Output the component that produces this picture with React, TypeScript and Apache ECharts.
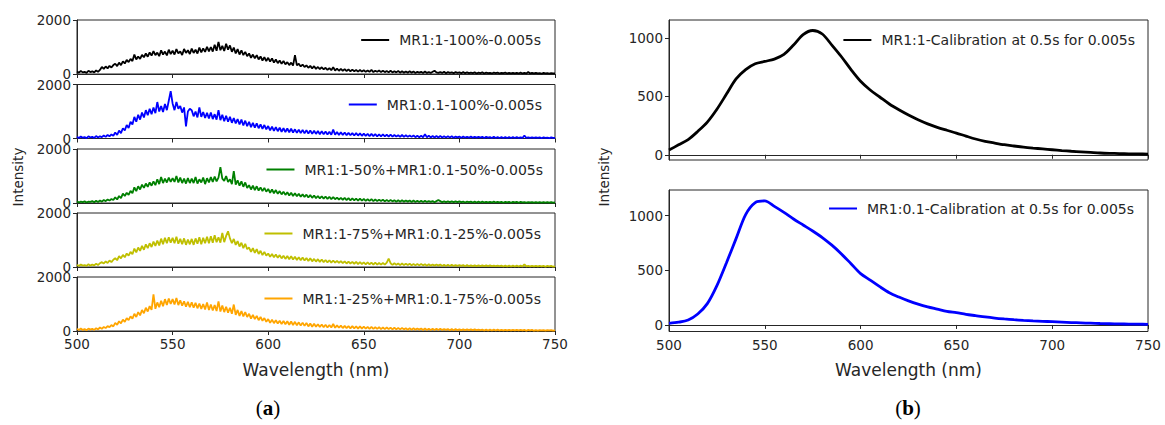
import React, { useEffect, useRef } from "react";
import * as echarts from "echarts";

// Sampling grid of the measured spectra (nm)
const wlStart = 500;
const noisyStep = 1; // noisy spectra: one value per nm, 500..750
const calStep = 5; // calibration spectra: one value every 5 nm, 500..750

const xTicks = [500, 550, 600, 650, 700, 750];
const leftYTicks = [0, 2000];
const rightYTicks = [0, 500, 1000];

const names = [
  "MR1:1-100%-0.005s",
  "MR1:0.1-100%-0.005s",
  "MR1:1-50%+MR1:0.1-50%-0.005s",
  "MR1:1-75%+MR1:0.1-25%-0.005s",
  "MR1:1-25%+MR1:0.1-75%-0.005s",
];
const calNames = [
  "MR1:1-Calibration at 0.5s for 0.005s",
  "MR1:0.1-Calibration at 0.5s for 0.005s",
];

const mr1_100 = [
  90, 50, 110, 60, 80, 40, 120, 70, 100, 60,
  130, 80, 150, 260, 190, 280, 210, 300, 240, 330,
  380, 290, 420, 330, 470, 390, 520, 440, 560, 480,
  720, 540, 650, 560, 710, 620, 760, 640, 800, 680,
  850, 700, 790, 660, 880, 720, 830, 690, 900, 740,
  860, 720, 920, 760, 840, 700, 930, 780, 880, 740,
  940, 780, 900, 760, 980, 800, 950, 820, 1010, 840,
  1000, 830, 1080, 860, 1190, 880, 1040, 850, 1120, 900,
  1060, 820, 980, 760, 920, 720, 880, 700, 820, 660,
  760, 600, 720, 580, 700, 540, 650, 500, 620, 480,
  600, 460, 580, 420, 540, 400, 500, 380, 480, 360,
  440, 330, 420, 310, 700, 320, 380, 280, 350, 260,
  320, 230, 300, 210, 290, 190, 260, 180, 250, 170,
  230, 150, 220, 140, 250, 130, 200, 120, 190, 120,
  180, 110, 170, 100, 160, 100, 150, 90, 150, 90,
  140, 80, 130, 80, 150, 70, 120, 80, 130, 70,
  120, 70, 110, 60, 120, 60, 100, 60, 110, 50,
  100, 50, 90, 50, 100, 50, 90, 40, 80, 50,
  80, 40, 90, 40, 70, 40, 80, 120, 60, 40,
  70, 40, 80, 30, 70, 40, 60, 30, 70, 40,
  60, 30, 70, 30, 60, 30, 50, 30, 60, 20,
  50, 30, 60, 20, 50, 30, 40, 20, 50, 30,
  50, 20, 40, 30, 50, 20, 40, 20, 40, 20,
  40, 20, 50, 20, 40, 20, 70, 20, 40, 20,
  40, 20, 30, 10, 40, 20, 30, 10, 30, 20,
  20,
];

const mr01_100 = [
  60, 20, 70, 30, 50, 10, 80, 40, 60, 20,
  90, 40, 80, 50, 110, 60, 130, 80, 150, 100,
  220, 130, 290, 200, 380, 300, 500, 390, 620, 520,
  800, 620, 880, 700, 960, 780, 1050, 860, 1100, 900,
  1150, 940, 1350, 1000, 1200, 980, 1280, 1050, 1400, 1750,
  1300, 1050, 1350, 1100, 1200, 960, 1150, 450, 1000, 1100,
  1050, 820, 1000, 780, 1150, 800, 980, 760, 950, 740,
  960, 720, 900, 700, 1050, 680, 880, 640, 840, 620,
  800, 580, 760, 560, 720, 520, 700, 480, 660, 460,
  620, 420, 580, 400, 560, 380, 520, 360, 500, 340,
  460, 300, 440, 280, 420, 270, 400, 250, 380, 240,
  370, 230, 360, 220, 340, 210, 330, 200, 320, 190,
  310, 180, 300, 170, 290, 170, 280, 160, 270, 160,
  260, 150, 250, 140, 330, 140, 240, 130, 230, 130,
  220, 120, 210, 120, 200, 110, 200, 110, 190, 100,
  180, 100, 170, 90, 170, 90, 160, 80, 150, 80,
  150, 80, 140, 70, 140, 70, 130, 70, 120, 60,
  130, 60, 120, 60, 110, 60, 110, 50, 100, 50,
  100, 50, 160, 50, 100, 40, 90, 40, 90, 40,
  90, 40, 80, 40, 80, 40, 80, 30, 70, 40,
  70, 30, 70, 30, 60, 30, 70, 30, 60, 30,
  60, 30, 60, 20, 60, 30, 50, 20, 60, 20,
  50, 20, 50, 20, 50, 20, 50, 20, 50, 20,
  50, 20, 40, 20, 110, 20, 40, 20, 40, 20,
  40, 20, 40, 10, 40, 20, 30, 10, 40, 20,
  20,
];

const mix50_50 = [
  60, 20, 50, 30, 60, 20, 50, 40, 70, 30,
  80, 40, 90, 50, 110, 70, 130, 90, 150, 110,
  210, 130, 260, 180, 350, 260, 380, 300, 450, 360,
  580, 440, 620, 500, 680, 560, 720, 600, 760, 640,
  800, 660, 880, 700, 960, 740, 900, 760, 940, 780,
  920, 780, 1000, 760, 940, 740, 900, 720, 920, 740,
  900, 740, 960, 720, 880, 760, 940, 700, 920, 760,
  960, 780, 980, 800, 940, 1330, 900, 820, 1000, 780,
  880, 700, 1180, 680, 840, 640, 800, 600, 760, 560,
  660, 500, 640, 480, 620, 460, 580, 440, 560, 420,
  520, 380, 500, 360, 480, 340, 440, 320, 420, 300,
  400, 280, 380, 260, 360, 250, 340, 230, 320, 220,
  310, 200, 300, 190, 280, 180, 260, 170, 250, 160,
  240, 150, 230, 140, 220, 140, 200, 130, 190, 120,
  190, 110, 180, 100, 170, 100, 160, 90, 160, 90,
  150, 80, 140, 80, 140, 70, 130, 70, 120, 70,
  120, 60, 110, 60, 110, 60, 100, 50, 100, 50,
  100, 50, 90, 50, 90, 40, 90, 40, 80, 40,
  80, 40, 80, 40, 70, 40, 70, 30, 70, 110,
  70, 30, 60, 30, 60, 30, 60, 30, 60, 30,
  60, 30, 50, 20, 50, 30, 50, 20, 50, 20,
  50, 20, 50, 20, 40, 20, 40, 20, 50, 20,
  40, 20, 40, 10, 40, 20, 40, 10, 40, 20,
  40, 10, 40, 20, 30, 10, 30, 20, 30, 10,
  30, 10, 30, 10, 30, 10, 30, 10, 30, 10,
  20,
];

const mix75_25 = [
  80, 40, 90, 50, 70, 40, 100, 50, 90, 60,
  120, 70, 140, 180, 130, 210, 150, 240, 180, 270,
  330, 250, 400, 320, 450, 360, 500, 420, 560, 470,
  680, 540, 720, 600, 780, 640, 840, 700, 880, 740,
  940, 780, 980, 800, 1050, 840, 1080, 880, 1100, 900,
  1080, 880, 1120, 860, 1040, 840, 1060, 820, 1020, 840,
  1040, 820, 1060, 860, 1100, 840, 1080, 880, 1120, 880,
  1140, 900, 1180, 920, 1100, 900, 1260, 920, 1150, 1320,
  1060, 880, 1040, 820, 960, 760, 900, 700, 860, 660,
  720, 560, 700, 520, 660, 480, 600, 440, 560, 420,
  500, 380, 480, 360, 460, 340, 440, 320, 420, 300,
  410, 290, 400, 280, 380, 260, 360, 250, 350, 240,
  330, 220, 320, 210, 300, 200, 290, 190, 280, 180,
  260, 170, 250, 160, 240, 160, 230, 150, 220, 140,
  210, 130, 200, 130, 190, 120, 190, 110, 180, 110,
  170, 100, 170, 100, 160, 90, 160, 90, 150, 90,
  150, 90, 160, 310, 140, 80, 140, 80, 130, 70,
  130, 70, 120, 70, 120, 60, 110, 60, 110, 60,
  110, 60, 100, 50, 100, 50, 90, 50, 90, 50,
  90, 40, 80, 40, 80, 40, 80, 40, 70, 40,
  70, 40, 70, 30, 70, 30, 60, 30, 60, 30,
  60, 30, 60, 30, 60, 30, 60, 30, 50, 30,
  50, 30, 50, 20, 50, 20, 50, 20, 50, 20,
  50, 20, 50, 20, 100, 20, 40, 20, 40, 20,
  40, 20, 40, 20, 40, 10, 40, 20, 40, 10,
  20,
];

const mix25_75 = [
  80, 40, 90, 40, 70, 30, 90, 50, 80, 40,
  100, 60, 130, 80, 150, 110, 180, 140, 220, 170,
  300, 230, 360, 280, 420, 340, 480, 400, 540, 460,
  640, 520, 700, 580, 780, 660, 860, 720, 920, 780,
  1360, 820, 1060, 880, 1120, 920, 1180, 960, 1200, 1000,
  1180, 980, 1220, 960, 1140, 940, 1100, 900, 1080, 880,
  1060, 860, 1040, 840, 1020, 820, 1000, 800, 1060, 780,
  980, 760, 960, 740, 1100, 720, 940, 700, 900, 680,
  860, 640, 980, 600, 780, 560, 740, 540, 700, 520,
  640, 460, 600, 440, 560, 400, 520, 380, 480, 340,
  440, 300, 420, 290, 400, 280, 380, 260, 370, 250,
  360, 230, 350, 220, 340, 210, 320, 200, 310, 190,
  300, 170, 280, 160, 270, 160, 250, 150, 240, 140,
  230, 130, 220, 130, 260, 120, 210, 120, 200, 110,
  190, 110, 180, 100, 180, 100, 170, 90, 170, 90,
  160, 90, 150, 80, 150, 80, 140, 80, 140, 70,
  130, 70, 130, 70, 120, 60, 120, 60, 110, 60,
  110, 60, 100, 50, 100, 50, 100, 50, 90, 50,
  90, 40, 90, 40, 80, 40, 80, 40, 80, 40,
  80, 40, 70, 40, 70, 30, 70, 30, 70, 30,
  60, 30, 60, 30, 60, 30, 60, 30, 60, 30,
  50, 30, 50, 20, 50, 20, 50, 20, 50, 20,
  50, 20, 40, 20, 40, 20, 40, 20, 40, 20,
  40, 20, 40, 20, 40, 10, 40, 20, 40, 10,
  30, 10, 30, 20, 30, 10, 30, 20, 30, 10,
  20,
];

const calMR1 = [
  40, 85, 130, 200, 280, 390, 520, 650, 730, 780,
  800, 820, 860, 940, 1030, 1065, 1035, 940, 840, 730,
  630, 555, 495, 435, 385, 340, 300, 265, 235, 210,
  186, 160, 135, 115, 100, 86, 75, 65, 57, 50,
  43, 36, 30, 25, 20, 15, 12, 10, 8, 7,
  6,
];

const calMR01 = [
  15, 25, 45, 100, 195, 360, 570, 790, 1010, 1120,
  1135, 1085, 1030, 970, 915, 860, 800, 730, 650, 560,
  470, 410, 350, 295, 255, 220, 190, 165, 145, 125,
  112, 97, 85, 73, 63, 55, 48, 42, 37, 33,
  30, 26, 22, 19, 16, 13, 11, 9, 8, 7,
  6,
];

const noisySeries = [mr1_100, mr01_100, mix50_50, mix75_25, mix25_75];
const noisyColors = ["#000000", "#0000ff", "#008000", "#bfbf00", "#ffa500"];
const calSeries = [calMR1, calMR01];
const calColors = ["#000000", "#0000ff"];

const toPairs = (vals: number[], step: number) =>
  vals.map((v, i) => [wlStart + i * step, v]);

const FONT = "DejaVu Sans";
const TXT = "#262626";

export default function App() {
  const ref = useRef<HTMLDivElement>(null);

  useEffect(() => {
    if (!ref.current) return;
    const chart = echarts.init(ref.current, undefined, { renderer: "svg" });

    const leftTops = [20, 84.5, 149, 213, 277];
    const leftH = 54;
    const grids: any[] = [];
    const xAxes: any[] = [];
    const yAxes: any[] = [];
    const series: any[] = [];
    const legends: any[] = [];
    const fmt = (v: number) => String(v);

    const xAxisBase = (gi: number, showLabel: boolean) => ({
      type: "value",
      gridIndex: gi,
      min: 500,
      max: 750,
      interval: 50,
      axisLine: { show: true, lineStyle: { color: TXT, width: 1 } },
      axisTick: { show: true, length: 4, inside: false, lineStyle: { color: TXT }, customValues: xTicks },
      axisLabel: {
        show: showLabel,
        fontFamily: FONT,
        fontSize: 13.5,
        color: TXT,
        margin: 6,
        customValues: xTicks,
        formatter: fmt,
      },
      splitLine: { show: false },
      name: showLabel ? "Wavelength (nm)" : "",
      nameLocation: "middle",
      nameGap: 30,
      nameTextStyle: { fontFamily: FONT, fontSize: 17, color: TXT },
    });

    const yAxisBase = (gi: number, min: number, max: number, ticks: number[]) => ({
      type: "value",
      gridIndex: gi,
      min,
      max,
      axisLine: { show: true, lineStyle: { color: TXT } },
      axisTick: { show: true, length: 4, lineStyle: { color: TXT }, customValues: ticks },
      axisLabel: {
        fontFamily: FONT,
        fontSize: 13.5,
        color: TXT,
        margin: 6,
        customValues: ticks,
        formatter: fmt,
      },
      splitLine: { show: false },
    });

    const legendLineIcon = "path://M0,0L28,0L28,2L0,2Z";
    const legendBase = (name: string, right: number, centerY: number) => ({
      data: [name],
      right,
      top: centerY - 8,
      padding: 0,
      icon: legendLineIcon,
      itemWidth: 28,
      itemHeight: 2,
      selectedMode: false,
      textStyle: { fontFamily: FONT, fontSize: 14, color: TXT, padding: [0, 0, 0, 5], lineHeight: 16 },
    });

    const leftLegendY = [40, 104.5, 169.5, 233.5, 298.5];
    const leftLegendRight = [624, 623, 622, 624, 624];

    noisySeries.forEach((vals, i) => {
      grids.push({
        left: 77,
        width: 478,
        top: leftTops[i],
        height: leftH,
        show: true,
        borderColor: TXT,
        borderWidth: 1,
        backgroundColor: "transparent",
      });
      xAxes.push(xAxisBase(i, i === 4));
      yAxes.push(yAxisBase(i, 0, 2000, leftYTicks));
      series.push({
        type: "line",
        name: names[i],
        xAxisIndex: i,
        yAxisIndex: i,
        data: toPairs(vals, noisyStep),
        showSymbol: false,
        lineStyle: { color: noisyColors[i], width: 1.8, join: "bevel" },
        itemStyle: { color: noisyColors[i] },
        clip: true,
      });
      legends.push(legendBase(names[i], leftLegendRight[i], leftLegendY[i]));
    });

    const rightGrids = [
      { top: 20, height: 140, min: -45, max: 1155 },
      { top: 190, height: 141.5, min: -60, max: 1235 },
    ];
    const calLegendRight = [30, 31];
    const calLegendY = [40, 208.5];
    calSeries.forEach((vals, j) => {
      const gi = 5 + j;
      const rg = rightGrids[j];
      grids.push({
        left: 669,
        width: 479,
        top: rg.top,
        height: rg.height,
        show: true,
        borderColor: TXT,
        borderWidth: 1,
        backgroundColor: "transparent",
      });
      xAxes.push(xAxisBase(gi, j === 1));
      yAxes.push(yAxisBase(gi, rg.min, rg.max, rightYTicks));
      series.push({
        type: "line",
        name: calNames[j],
        xAxisIndex: gi,
        yAxisIndex: gi,
        data: toPairs(vals, calStep),
        showSymbol: false,
        smooth: 0.3,
        lineStyle: { color: calColors[j], width: 2.8 },
        itemStyle: { color: calColors[j] },
        clip: true,
      });
      legends.push(legendBase(calNames[j], calLegendRight[j], calLegendY[j]));
    });

    const panelLabel = (x: number, letter: string) => ({
      type: "text",
      x,
      y: 408,
      style: {
        text: `{n|(}{b|${letter}}{n|)}`,
        textAlign: "center",
        textVerticalAlign: "middle",
        rich: {
          n: { fontFamily: "Liberation Serif", fontSize: 21, fill: "#000" },
          b: { fontFamily: "Liberation Serif", fontSize: 21, fontWeight: "bold", fill: "#000" },
        },
      },
    });

    const yTitle = (x: number) => ({
      type: "text",
      x,
      y: 177,
      rotation: Math.PI / 2,
      style: {
        text: "Intensity",
        fontFamily: FONT,
        fontSize: 13.5,
        fill: TXT,
        textAlign: "center",
        textVerticalAlign: "middle",
      },
    });

    chart.setOption({
      animation: false,
      backgroundColor: "#ffffff",
      grid: grids,
      xAxis: xAxes,
      yAxis: yAxes,
      series,
      legend: legends,
      graphic: [yTitle(18), yTitle(604), panelLabel(268, "a"), panelLabel(908, "b")],
    });

    return () => chart.dispose();
  }, []);

  return (
    <div
      ref={ref}
      style={{ position: "absolute", left: 0, top: 0, width: 1165, height: 425, background: "#fff" }}
    />
  );
}
